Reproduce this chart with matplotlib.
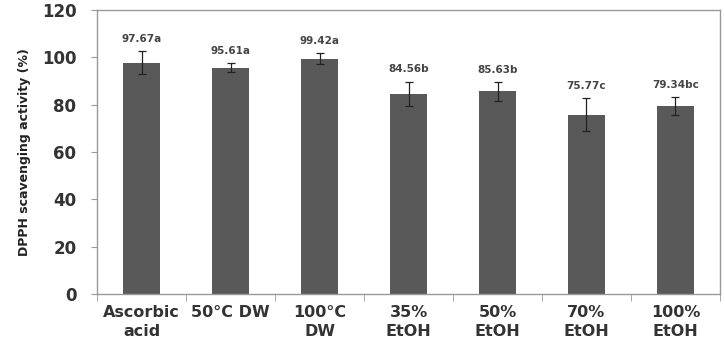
import numpy as np
import matplotlib.pyplot as plt

categories = ['Ascorbic\nacid', '50°C DW', '100°C\nDW', '35%\nEtOH', '50%\nEtOH', '70%\nEtOH', '100%\nEtOH']
values = [97.67, 95.61, 99.42, 84.56, 85.63, 75.77, 79.34]
errors = [4.9, 1.8, 2.4, 5.2, 3.9, 7.0, 3.8]
letters = ['a', 'a', 'a', 'b', 'b', 'c', 'bc']

fig = plt.figure(figsize=(7.25, 3.42), dpi=100)
ax = fig.add_axes([0.134, 0.14, 0.859, 0.831])

x = np.arange(len(categories))
ax.bar(x, values, width=0.42, color='#595959', zorder=2)
ax.errorbar(x, values, yerr=errors, fmt='none', ecolor='#222222',
            elinewidth=0.9, capsize=3, capthick=0.9, zorder=3)

# value + significance letter above each error bar
for xi, v, e, l in zip(x, values, errors, letters):
    ax.text(xi, v + e + 3, f'{v:.2f}{l}', ha='center', va='bottom',
            fontsize=7.5, fontweight='bold', color='#444444')

ax.set_xlim(-0.5, len(categories) - 0.5)
ax.set_ylim(0, 120)
ax.set_yticks(range(0, 121, 20))
ax.set_xticks(x)
ax.set_xticklabels(categories, fontsize=11.5, fontweight='bold', color='#333333',
                   linespacing=1.3)
ax.set_xticks(np.arange(-0.5, len(categories), 1), minor=True)
ax.tick_params(axis='x', which='major', length=0, pad=8)
ax.tick_params(axis='x', which='minor', length=5, color='#999999')
ax.tick_params(axis='y', length=4, color='#999999', labelsize=12, labelcolor='#333333', pad=11)
for lbl in ax.get_yticklabels():
    lbl.set_fontweight('bold')

for s in ax.spines.values():
    s.set_color('#999999')
    s.set_linewidth(1.0)

ax.set_ylabel('DPPH scavenging activity (%)', fontsize=9, fontweight='bold',
              color='#222222', labelpad=8)

fig.savefig('out.png', dpi=100)
